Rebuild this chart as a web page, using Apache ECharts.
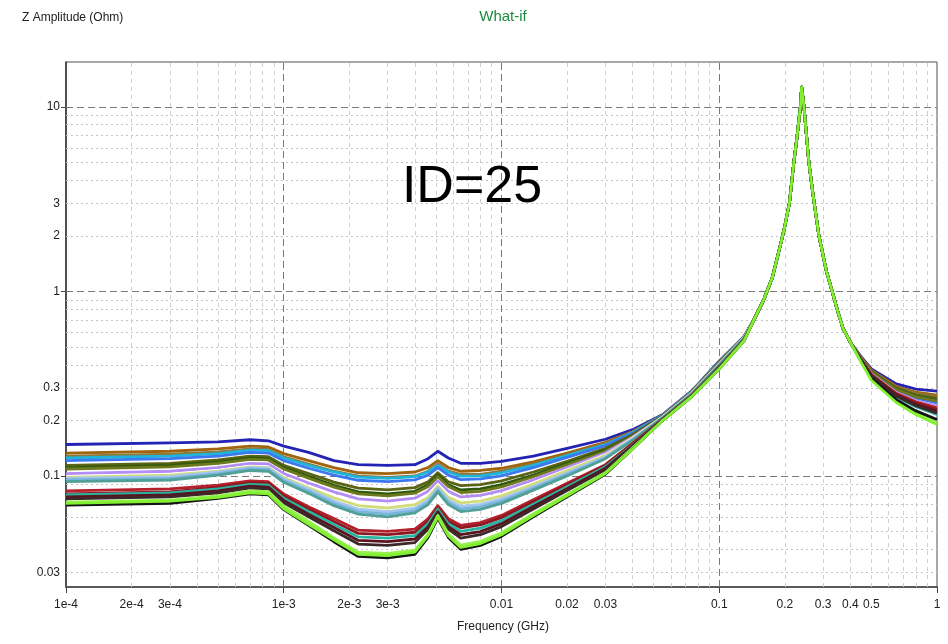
<!DOCTYPE html>
<html>
<head>
<meta charset="utf-8">
<script src="https://cdn.jsdelivr.net/npm/echarts@6/dist/echarts.min.js"></script>
<style>
  html, body { margin: 0; padding: 0; background: #ffffff; }
  #chart { width: 948px; height: 644px; }
</style>
</head>
<body>
<div id="chart"></div>
<script>
// Frequency samples (GHz)
const freqLow  = [1e-4, 3e-4, 5e-4, 7e-4, 8.5e-4, 1e-3, 1.3e-3, 1.7e-3, 2.2e-3, 3e-3, 4e-3, 4.6e-3, 5.1e-3, 5.7e-3, 6.5e-3, 8e-3, 0.01, 0.014, 0.02, 0.03, 0.04, 0.055, 0.075, 0.1, 0.13];
const freqPeak = [0.145, 0.16, 0.175, 0.19, 0.2, 0.21, 0.22, 0.228, 0.232, 0.236, 0.239, 0.245, 0.25, 0.258, 0.265, 0.272, 0.287, 0.31, 0.33, 0.35, 0.37, 0.4];
const freqTail = [0.45, 0.5, 0.65, 0.8, 1];

// Resonance region, common to every case (Ohm)
const zPeak = [0.71, 0.90, 1.18, 1.74, 2.25, 3.0, 5.0, 7.0, 8.4, 10.0, 12.8, 10.0, 7.6, 5.0, 3.9, 3.1, 2.0, 1.3, 1.0, 0.78, 0.63, 0.53];

// Per-case impedance below the resonance (Ohm)
const zLow01 = [.148,.151,.153,.157,.155,.145,.134,.121,.115,.114,.115,.124,.136,.125,.117,.117,.120,.128,.141,.158,.178,.215,.290,.420,.570];
const zLow02 = [.133,.136,.140,.145,.1435,.132,.121,.111,.104,.103,.105,.111,.121,.111,.106,.107,.110,.119,.133,.152,.174,.214,.288,.416,.570];
const zLow03 = [.128,.131,.135,.140,.139,.127,.116,.106,.0996,.098,.0999,.106,.116,.106,.102,.102,.106,.116,.130,.149,.172,.213,.287,.414,.567];
const zLow04 = [.125,.128,.132,.138,.137,.125,.114,.105,.0986,.097,.099,.105,.114,.105,.0996,.100,.104,.114,.129,.148,.172,.213,.287,.414,.567];
const zLow05 = [.121,.124,.128,.134,.133,.121,.110,.101,.0947,.093,.0952,.101,.111,.101,.0954,.0963,.100,.111,.126,.146,.170,.212,.286,.412,.566];
const zLow06 = [.114,.117,.122,.128,.127,.114,.103,.0925,.0858,.084,.0864,.093,.104,.093,.0885,.0896,.094,.105,.120,.141,.167,.211,.285,.410,.564];
const zLow07 = [.111,.114,.119,.125,.124,.111,.0995,.0888,.0819,.080,.0825,.0895,.101,.0895,.0839,.0851,.0897,.101,.117,.138,.165,.211,.284,.410,.564];
const zLow08 = [.109,.112,.117,.123,.122,.109,.0972,.0869,.080,.078,.0806,.0875,.099,.0875,.0812,.0825,.0872,.0989,.115,.136,.164,.210,.284,.410,.564];
const zLow09 = [.103,.106,.111,.117,.116,.103,.0915,.0819,.075,.073,.0757,.0825,.094,.0825,.0769,.0784,.0832,.0952,.111,.133,.162,.209,.283,.405,.562];
const zLow10 = [.099,.102,.107,.113,.112,.099,.0873,.078,.0711,.069,.0718,.0785,.090,.0785,.0729,.0745,.0794,.0917,.108,.130,.160,.209,.282,.403,.560];
const zLow11 = [.098,.101,.106,.112,.111,.0979,.0862,.076,.0691,.067,.0698,.0765,.088,.0765,.0714,.073,.0779,.0903,.107,.129,.159,.208,.282,.403,.560];
const zLow12 = [.097,.099,.105,.111,.110,.0966,.0846,.073,.0661,.064,.0669,.0739,.086,.0739,.0684,.0701,.0751,.0876,.104,.127,.158,.207,.280,.400,.555];
const zLow13 = [.095,.097,.103,.109,.108,.0945,.0825,.071,.0641,.062,.0649,.0719,.084,.0719,.0662,.0679,.073,.0856,.102,.125,.157,.207,.279,.400,.555];
const zLow14 = [.093,.095,.101,.107,.106,.0924,.0805,.069,.0621,.060,.063,.0699,.082,.0699,.0641,.0659,.071,.0837,.100,.124,.156,.206,.279,.398,.555];
const zLow15 = [.083,.085,.089,.094,.093,.0797,.0681,.0588,.0508,.050,.0515,.0586,.069,.0586,.054,.0559,.0611,.0742,.0911,.115,.150,.203,.275,.390,.548];
const zLow16 = [.080,.082,.0866,.092,.0911,.0777,.0661,.0566,.0488,.048,.0495,.0566,.067,.0566,.0523,.0542,.0594,.0725,.0895,.114,.149,.203,.274,.390,.548];
const zLow17 = [.079,.081,.085,.090,.089,.0757,.0641,.0546,.0467,.046,.0475,.055,.066,.055,.0501,.0521,.0572,.0703,.0873,.112,.147,.202,.273,.388,.545];
const zLow18 = [.077,.079,.083,.088,.087,.0737,.062,.0525,.0447,.044,.0455,.053,.064,.053,.048,.0499,.0551,.0682,.0852,.110,.146,.202,.272,.386,.545];
const zLow19 = [.075,.0769,.081,.086,.085,.0716,.060,.0504,.0427,.042,.0435,.0515,.063,.0515,.046,.048,.0531,.0662,.0832,.108,.144,.201,.271,.384,.543];
const zLow20 = [.072,.0738,.078,.083,.0822,.0685,.0568,.0461,.0386,.038,.0396,.0484,.061,.0484,.0422,.0442,.0492,.0623,.0793,.104,.142,.200,.270,.381,.541];
const zLow21 = [.0695,.071,.0755,.080,.079,.0656,.054,.044,.0366,.036,.0376,.0464,.059,.0464,.040,.042,.047,.060,.077,.102,.140,.200,.270,.380,.540];
const zLow22 = [.071,.073,.0765,.081,.080,.0664,.0547,.0451,.0376,.037,.0386,.0474,.060,.0474,.041,.043,.048,.061,.078,.103,.140,.200,.270,.380,.540];

// Per-case impedance above the resonance (Ohm)
const zTail01 = [.440,.380,.315,.295,.288];
const zTail02 = [.436,.374,.306,.284,.274];
const zTail03 = [.434,.371,.302,.279,.267];
const zTail04 = [.431,.364,.294,.268,.254];
const zTail05 = [.429,.362,.290,.264,.249];
const zTail06 = [.433,.368,.299,.275,.263];
const zTail07 = [.431,.365,.295,.270,.256];
const zTail08 = [.431,.364,.294,.268,.254];
const zTail09 = [.426,.357,.284,.256,.239];
const zTail10 = [.425,.354,.280,.252,.234];
const zTail11 = [.423,.352,.277,.248,.229];
const zTail12 = [.425,.354,.280,.252,.234];
const zTail13 = [.423,.352,.277,.248,.229];
const zTail14 = [.422,.349,.274,.244,.224];
const zTail15 = [.425,.354,.280,.252,.234];
const zTail16 = [.423,.352,.277,.248,.229];
const zTail17 = [.419,.344,.268,.237,.215];
const zTail18 = [.422,.349,.274,.244,.224];
const zTail19 = [.420,.347,.271,.240,.219];
const zTail20 = [.413,.334,.256,.222,.198];
const zTail21 = [.415,.337,.259,.225,.202];
const zTail22 = [.410,.330,.250,.215,.190];

const curveColors = ['#2323b4','#a0640f','#8c7a3c','#1eb4dc','#3c78f0','#5a6414','#2d5a0a','#6e781e',
                     '#b48cf5','#ffffff','#d2dc78','#a5c8ee','#78b4dc','#50a096','#b4202c','#8c1820',
                     '#28b4a0','#5a1420','#3c2828','#96f050','#141414','#80f030'];

// Axis tick labels
const xLabelVals  = [1e-4, 2e-4, 3e-4, 1e-3, 2e-3, 3e-3, 0.01, 0.02, 0.03, 0.1, 0.2, 0.3, 0.4, 0.5, 1];
const xLabelTexts = ['1e-4','2e-4','3e-4','1e-3','2e-3','3e-3','0.01','0.02','0.03','0.1','0.2','0.3','0.4','0.5','1'];
const yLabelVals  = [0.03, 0.1, 0.2, 0.3, 1, 2, 3, 10];
const yLabelTexts = ['0.03','0.1','0.2','0.3','1','2','3','10'];

// Grid line positions
const xMajor = [1e-3, 1e-2, 1e-1];
const xMinor = [2e-4,3e-4,4e-4,5e-4,6e-4,7e-4,8e-4,9e-4, 2e-3,3e-3,4e-3,5e-3,6e-3,7e-3,8e-3,9e-3,
                0.02,0.03,0.04,0.05,0.06,0.07,0.08,0.09, 0.2,0.3,0.4,0.5,0.6,0.7,0.8,0.9];
const yMajor = [0.1, 1, 10];
const yMinor = [0.03,0.04,0.05,0.06,0.07,0.08,0.09, 0.2,0.3,0.4,0.5,0.6,0.7,0.8,0.9, 2,3,4,5,6,7,8,9];

const X_MIN = 1e-4, X_MAX = 1, Y_MIN = 0.025, Y_MAX = 17.5;

const zLows  = [zLow01,zLow02,zLow03,zLow04,zLow05,zLow06,zLow07,zLow08,zLow09,zLow10,zLow11,
                zLow12,zLow13,zLow14,zLow15,zLow16,zLow17,zLow18,zLow19,zLow20,zLow21,zLow22];
const zTails = [zTail01,zTail02,zTail03,zTail04,zTail05,zTail06,zTail07,zTail08,zTail09,zTail10,zTail11,
                zTail12,zTail13,zTail14,zTail15,zTail16,zTail17,zTail18,zTail19,zTail20,zTail21,zTail22];

function buildCurve(low, tail) {
  const pts = [];
  freqLow.forEach((f, i) => pts.push([f, low[i]]));
  freqPeak.forEach((f, i) => pts.push([f, zPeak[i]]));
  freqTail.forEach((f, i) => pts.push([f, tail[i]]));
  return pts;
}

function lookupLabel(vals, texts) {
  return function (v) {
    for (let i = 0; i < vals.length; i++) {
      if (Math.abs(Math.log10(v) - Math.log10(vals[i])) < 1e-6) return texts[i];
    }
    return '';
  };
}

const uiFont = "'Liberation Sans', Arial, sans-serif";

const majorStyle = { color: '#7a7a7a', width: 1, type: [7, 4] };
const minorXStyle = { color: '#cfcfcf', width: 1, type: [4, 4] };
const minorYStyle = { color: '#c4c4c4', width: 1, type: [2, 3] };

const gridLines = [];
xMinor.forEach(v => gridLines.push([{ coord: [v, Y_MIN], lineStyle: minorXStyle }, { coord: [v, Y_MAX] }]));
yMinor.forEach(v => gridLines.push([{ coord: [X_MIN, v], lineStyle: minorYStyle }, { coord: [X_MAX, v] }]));
xMajor.forEach(v => gridLines.push([{ coord: [v, Y_MIN], lineStyle: majorStyle }, { coord: [v, Y_MAX] }]));
yMajor.forEach(v => gridLines.push([{ coord: [X_MIN, v], lineStyle: majorStyle }, { coord: [X_MAX, v] }]));

const series = [{
  type: 'line',
  name: 'grid',
  data: [],
  silent: true,
  markLine: {
    silent: true,
    z: 1,
    symbol: ['none', 'none'],
    label: { show: false },
    emphasis: { disabled: true },
    animation: false,
    data: gridLines
  }
}];

zLows.forEach((low, i) => {
  series.push({
    type: 'line',
    name: 'Case ' + (i + 1),
    data: buildCurve(low, zTails[i]),
    showSymbol: false,
    symbol: 'none',
    z: 3,
    lineStyle: { width: 2.8, color: curveColors[i], join: 'round' },
    itemStyle: { color: curveColors[i] },
    emphasis: { disabled: true }
  });
});

const chart = echarts.init(document.getElementById('chart'), null, { renderer: 'canvas' });
chart.setOption({
  animation: false,
  backgroundColor: '#ffffff',
  grid: { left: 66, right: 11, top: 62, bottom: 57, show: true, borderColor: '#505050', borderWidth: 1, backgroundColor: '#ffffff' },
  xAxis: {
    type: 'log', logBase: 10, min: X_MIN, max: X_MAX,
    axisLine: { show: true, onZero: false, lineStyle: { color: '#5a5a5a', width: 2 } },
    axisTick: { show: true, customValues: [1e-4, 1e-3, 1e-2, 1e-1, 1], length: 6, lineStyle: { color: '#444' } },
    axisLabel: { customValues: xLabelVals, formatter: lookupLabel(xLabelVals, xLabelTexts), margin: 12,
                 fontSize: 12, color: '#222', fontFamily: uiFont, hideOverlap: false },
    splitLine: { show: false },
    minorTick: { show: false }
  },
  yAxis: {
    type: 'log', logBase: 10, min: Y_MIN, max: Y_MAX,
    axisLine: { show: true, onZero: false, lineStyle: { color: '#333', width: 1.5 } },
    axisTick: { show: true, customValues: [0.1, 1, 10], length: 5, lineStyle: { color: '#444' } },
    axisLabel: { customValues: yLabelVals, formatter: lookupLabel(yLabelVals, yLabelTexts), margin: 6,
                 fontSize: 12, color: '#222', fontFamily: uiFont, hideOverlap: false },
    splitLine: { show: false },
    minorTick: { show: false }
  },
  series: series,
  graphic: [
    { type: 'text', style: { text: 'Z Amplitude (Ohm)', x: 22, y: 18, align: 'left', verticalAlign: 'middle',
        font: "12px " + uiFont, fill: '#222' } },
    { type: 'text', style: { text: 'What-if', x: 503, y: 17, align: 'center', verticalAlign: 'middle',
        font: "15px " + uiFont, fill: '#1b8a3e' } },
    { type: 'text', style: { text: 'Frequency (GHz)', x: 503, y: 627, align: 'center', verticalAlign: 'middle',
        font: "12px " + uiFont, fill: '#222' } },
    { type: 'text', z: 10, style: { text: 'ID=25', x: 472, y: 188, align: 'center', verticalAlign: 'middle',
        font: "52px " + uiFont, fill: '#000' } }
  ]
});
</script>
</body>
</html>
